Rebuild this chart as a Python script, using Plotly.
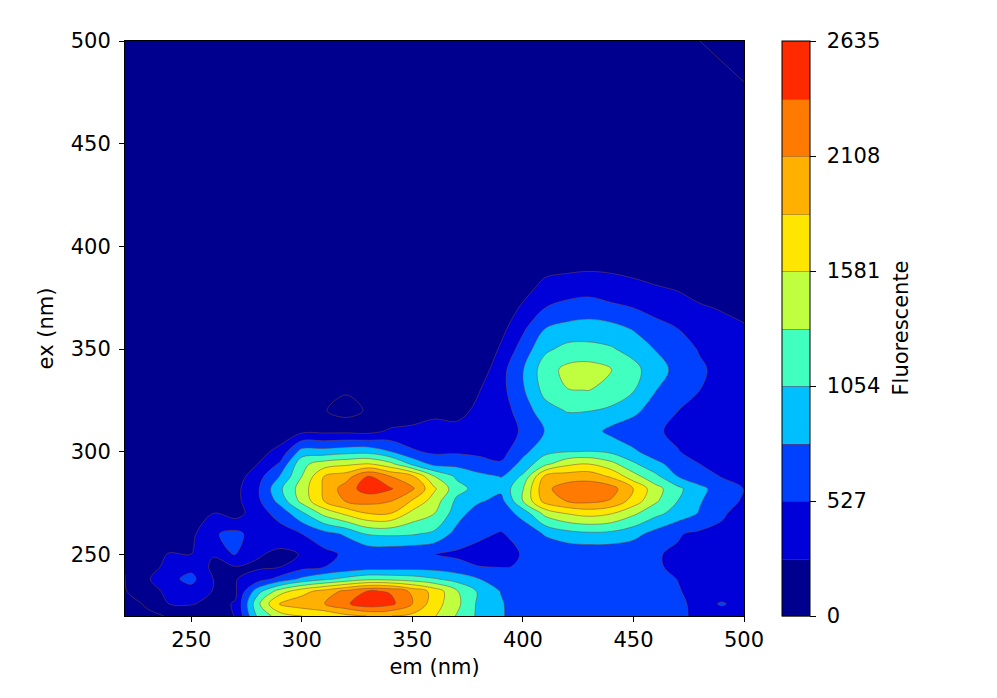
import plotly.graph_objects as go

em = list(range(220, 510, 10))
ex = [220, 226, 232, 238, 244, 250, 260, 270, 276, 282, 288, 294, 300,
      310, 320, 330, 340, 350, 360, 370, 380, 390, 400, 480, 500]

r220 = [-40,-15,5,120,180,270,1100,1450,1580,1650,1780,1850,1850,1780,1600,1300,1000,830,600,540,535,535,540,540,540,560,490,490,490]
r226 = [-30,10,270,280,200,280,1250,1900,2000,2100,2330,2550,2450,2108,1700,1390,1000,820,620,540,535,535,540,540,540,550,495,535,495]
r232 = [-15,150,330,430,250,230,950,1450,1750,1950,2180,2400,2350,2050,1750,1350,1020,780,580,535,530,530,530,530,540,535,490,480,470]
r238 = [-3,230,460,600,260,250,400,620,850,1000,1130,1250,1230,1180,1080,950,800,650,540,535,530,530,530,535,560,525,480,470,460]
r244 = [5,180,320,450,210,255,220,250,430,520,590,650,660,680,670,620,530,520,535,550,560,560,560,550,540,505,470,460,450]
r250 = [8,60,290,265,280,550,290,200,275,450,570,590,600,570,530,480,470,480,535,570,590,600,600,590,540,500,470,460,450]
r260 = [8,15,30,200,500,600,400,420,527,700,830,1080,1100,1080,1000,700,560,515,590,820,950,1000,980,880,700,545,480,470,440]
r270 = [4,5,10,90,263,150,420,620,1000,1400,1650,1850,1850,1500,1320,920,640,620,900,1400,1600,1680,1600,1370,1130,950,770,560,430]
r276 = [3,4,6,15,40,190,470,880,1400,1845,2130,2200,2120,1820,1450,1000,830,700,1317,1950,2120,2180,2080,1730,1360,1054,810,650,490]
r282 = [2,3,4,8,20,190,490,1000,1450,1880,2250,2500,2400,2150,1620,1150,960,860,1300,2050,2230,2270,2220,1840,1420,1120,850,680,520]
r288 = [2,2,3,5,10,130,420,800,1317,1845,1980,2400,2108,1900,1317,1010,880,780,1100,1900,1980,2000,1800,1420,1120,790,650,510,420]
r294 = [1,2,2,3,5,80,263,560,1250,1450,1530,1600,1400,1000,720,720,590,560,880,1250,1520,1590,1400,1100,850,700,527,430,350]
r300 = [1,1,2,2,3,40,170,340,900,900,960,970,800,560,480,490,490,430,720,980,1050,1060,1000,830,680,540,430,340,290]
r310 = [1,1,1,2,2,5,30,100,200,200,200,180,300,350,400,340,390,400,560,800,880,900,720,630,560,470,400,350,300]
r320 = [1,1,1,1,2,3,6,8,8,15,-100,30,50,60,170,180,320,400,650,950,1070,1060,1000,860,660,530,440,370,310]
r330 = [1,1,1,1,1,2,3,5,6,7,30,8,8,9,9,30,250,440,760,1140,1310,1320,1230,1070,800,640,527,400,330]
r340 = [1,1,1,1,1,1,2,3,4,5,6,6,6,7,7,8,100,430,780,1200,1390,1430,1320,1150,880,730,580,420,340]
r350 = [1,1,1,1,1,1,1,2,3,4,4,4,5,5,5,6,20,300,640,1000,1130,1130,1080,950,780,670,500,390,310]
r360 = [1,1,1,1,1,1,1,1,2,3,3,3,3,4,4,4,8,180,480,790,880,910,880,770,620,527,390,320,280]
r370 = [1,1,1,1,1,1,1,1,1,2,2,2,3,3,3,3,5,80,310,527,610,650,580,527,440,370,285,250,220]
r380 = [1,1,1,1,1,1,1,1,1,1,2,2,2,2,2,3,3,20,150,350,400,420,380,340,280,240,190,150,120]
r390 = [1,1,1,1,1,1,1,1,1,1,1,2,2,2,2,2,2,5,40,170,200,220,210,170,140,120,90,70,50]
r400 = [1,1,1,1,1,1,1,1,1,1,1,1,1,1,2,2,2,2,5,10,20,25,20,15,10,10,8,8,6]
r480 = [1,1,1,1,1,1,1,1,1,1,1,1,1,1,1,1,1,1,2,2,2,2,2,2,3,4,5,10,0]
r500 = [1,1,1,1,1,1,1,1,1,1,1,1,1,1,1,1,1,1,1,1,1,1,1,1,1,1,0,-10,-20]

z = [r220, r226, r232, r238, r244, r250, r260, r270, r276, r282, r288, r294, r300,
     r310, r320, r330, r340, r350, r360, r370, r380, r390, r400, r480, r500]

band_colors = ["#00008f", "#0000d8", "#0040ff", "#00bfff", "#40ffbf",
               "#bfff40", "#ffe600", "#ffb000", "#ff7a00", "#ff2a00"]
tick_vals = [0, 527, 1054, 1581, 2108, 2635]
axis_ticks = [250, 300, 350, 400, 450, 500]

scale = []
for i, c in enumerate(band_colors):
    scale.append([i / 10, c])
    scale.append([(i + 1) / 10, c])

FONT = "DejaVu Sans"
fig = go.Figure(go.Contour(
    x=em, y=ex, z=z, zmin=0, zmax=2635, zauto=False,
    colorscale=scale,
    contours=dict(start=0, end=2635, size=263.5, coloring="fill"),
    line=dict(color="rgba(120,70,60,0.5)", width=1, smoothing=1.0),
    colorbar=dict(
        x=(782 - 125) / 619, xanchor="left", xpad=0, ypad=0,
        y=0.5, yanchor="middle", len=1, lenmode="fraction",
        thickness=28, thicknessmode="pixels",
        tickmode="array", tickvals=tick_vals,
        ticktext=["\u00a0" + str(v) for v in tick_vals],
        ticks="outside", ticklen=6, tickwidth=1, tickcolor="black",
        tickfont=dict(family=FONT, size=21, color="black"),
        outlinecolor="black", outlinewidth=1,
    ),
    hoverinfo="skip",
))

axis = dict(range=[220, 500], tickmode="array", tickvals=axis_ticks, ticks="outside",
            ticklen=5, tickwidth=1, tickcolor="black", showgrid=False, zeroline=False,
            showline=True, linecolor="black", linewidth=1, mirror=True,
            tickfont=dict(family=FONT, size=21, color="black"))
fig.update_layout(
    width=997, height=698, margin=dict(l=117, r=261, t=33, b=90),
    paper_bgcolor="white", plot_bgcolor="white",
    font=dict(family=FONT, color="black"),
    xaxis=dict(axis, title=dict(text="em (nm)", font=dict(family=FONT, size=21), standoff=8)),
    yaxis=dict(axis, ticklabelstandoff=4,
               title=dict(text="ex (nm)", font=dict(family=FONT, size=21), standoff=11)),
    annotations=[dict(text="Fluorescente", textangle=-90, xref="paper", yref="paper",
                      x=(892 - 117) / 619, y=0.5, xanchor="center", yanchor="middle",
                      showarrow=False, font=dict(family=FONT, size=21, color="black"))],
)
fig.write_html("out.html")
